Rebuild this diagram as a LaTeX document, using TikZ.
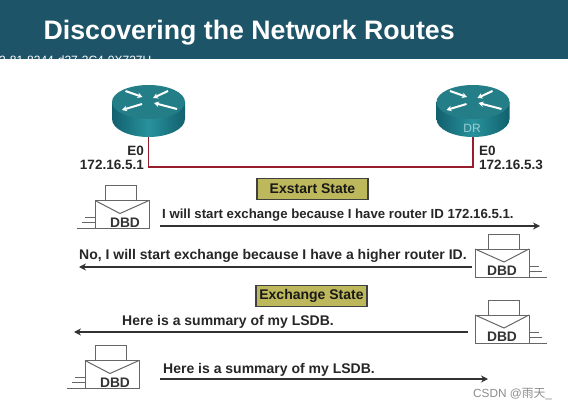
\documentclass[tikz,border=0pt]{standalone}
\usepackage{fontspec}
\setmainfont{Liberation Sans}
\newfontfamily\cjkfont{Noto Sans CJK SC}
\usetikzlibrary{arrows.meta}
\definecolor{bandteal}{RGB}{30,84,104}
\definecolor{routerteal}{RGB}{36,126,136}
\definecolor{routerdark}{RGB}{18,96,110}
\definecolor{routerlight}{RGB}{40,146,156}
\definecolor{linkred}{RGB}{150,30,45}
\definecolor{stateolive}{RGB}{190,184,92}
\definecolor{msggray}{RGB}{50,50,50}
\tikzset{
  titletext/.style={
    anchor=base west,
    inner sep=0pt,
    text=white,
    font=\bfseries\fontsize{26.7}{27}\selectfont
  },
  porttext/.style={
    inner sep=0pt,
    text=black!85,
    font=\bfseries\fontsize{13.5}{14}\selectfont
  },
  msgtext/.style={
    anchor=base west,
    inner sep=0pt,
    text=black!85,
    font=\bfseries\fontsize{14}{14}\selectfont
  },
  statebox/.style={
    draw=black!75,
    line width=1.2pt,
    fill=stateolive,
    minimum width=111pt,
    minimum height=21pt,
    inner sep=0pt,
    text=black!90,
    font=\bfseries\fontsize{14}{14}\selectfont
  },
  msgarc/.style={
    -{Stealth[length=7pt,width=7pt]},
    line width=1.5pt,
    draw=msggray
  },
  linkline/.style={
    line width=1.8pt,
    draw=linkred
  },
  routernode/.style={
    minimum width=73pt,
    minimum height=52pt,
    inner sep=0pt
  },
  routerarrow/.style={
    -{Stealth[length=5pt,width=5.5pt]},
    line width=2pt,
    draw=white
  },
  routerpic/.pic={
    \shade[left color=routerdark,right color=routerdark,middle color=routerlight]
      (-36.5,9) -- (-36.5,-8) arc[start angle=180,end angle=360,x radius=36.5,y radius=18]
      -- (36.5,9) -- cycle;
    \fill[routerteal] (0,9) ellipse[x radius=36.5,y radius=17];
    \draw[routerarrow] (-23,20) -- (-6,14);
    \draw[routerarrow] (-6.5,7) -- (-26.5,1);
    \draw[routerarrow] (19.5,20) -- (4.5,13);
    \draw[routerarrow] (28.5,2) -- (5.5,8);
  },
  dbdpic/.pic={
    \begin{scope}[xscale=#1,draw=black!60,line width=1pt]
      \draw[fill=white] (-16,14) rectangle (15,29);
      \draw[fill=white] (-26,-14) rectangle (28,14);
      \draw (-26,14) -- (-1,1) -- (28,14);
      \draw (-44,-14) -- (-26,-14);
      \draw (-39,-8) -- (-26,-8);
      \draw (-36,-3) -- (-26,-3);
    \end{scope}
    \node[text=black!80,inner sep=0pt,font=\bfseries\fontsize{13.8}{14}\selectfont]
      at ({1.5+2.5*#1},-8) {DBD};
  }
}
\begin{document}
\begin{tikzpicture}[x=1pt,y=1pt]
  \useasboundingbox (0,0) rectangle (568,408);
  % band
  \fill[bandteal] (0,349) rectangle (568,408);
  \node[titletext] (title) at (43.5,368) {Discovering the Network Routes};
  \node[text=white,anchor=base west,inner sep=0pt,font=\fontsize{12}{12}\selectfont] (cliptext) at (-1,343) {2-81-8344-d27-3C4-0X727U};

  % routers
  \node[routernode] (rtra) at (148.5,297) {};
  \node[routernode] (rtrb) at (473,297) {};
  \pic at (rtra) {routerpic};
  \pic at (rtrb) {routerpic};
  \node[text=routerlight!45,inner sep=0pt,font=\fontsize{12}{12}\selectfont] (drtext) at (472,280) {DR};

  % link
  \draw[linkline] (rtra.south) |- (311,241) -| (rtrb.south);
  \node[porttext,anchor=east] (porta) at (144,257) {E0};
  \node[porttext,anchor=east] (ipa) at (144,243) {172.16.5.1};
  \node[porttext,anchor=west] (portb) at (479,257) {E0};
  \node[porttext,anchor=west] (ipb) at (479,243) {172.16.5.3};

  % Exstart
  \node[statebox] (exstart) at (312.5,219) {Exstart State};
  \pic at (121,193.5) {dbdpic=1};
  \node[msgtext,font=\bfseries\fontsize{13.2}{14}\selectfont] (msga) at (162,190) {I will start exchange because I have router ID 172.16.5.1.};
  \coordinate (msgasrc) at (160,182);
  \coordinate (msgadst) at (540,182);
  \draw[msgarc] (msgasrc) -- (msgadst);

  \pic at (503,145) {dbdpic=-1};
  \node[msgtext] (msgb) at (79,149) {No, I will start exchange because I have a higher router ID.};
  \coordinate (msgbsrc) at (472,141);
  \coordinate (msgbdst) at (79,141);
  \draw[msgarc] (msgbsrc) -- (msgbdst);

  % Exchange
  \node[statebox] (exchange) at (311.5,112) {Exchange State};
  \pic at (503,79) {dbdpic=-1};
  \node[msgtext] (msgc) at (122,83) {Here is a summary of my LSDB.};
  \coordinate (msgcsrc) at (468,76);
  \coordinate (msgcdst) at (74,76);
  \draw[msgarc] (msgcsrc) -- (msgcdst);

  \pic at (111,33.5) {dbdpic=1};
  \node[msgtext] (msgd) at (163,35) {Here is a summary of my LSDB.};
  \coordinate (msgdsrc) at (160,29);
  \coordinate (msgddst) at (488,29);
  \draw[msgarc] (msgdsrc) -- (msgddst);

  \node[text=black!45,anchor=base west,inner sep=0pt,font=\fontsize{11.8}{12}\selectfont] (mark) at (473,11) {CSDN @{\cjkfont 雨天}\_};
\end{tikzpicture}
\end{document}
